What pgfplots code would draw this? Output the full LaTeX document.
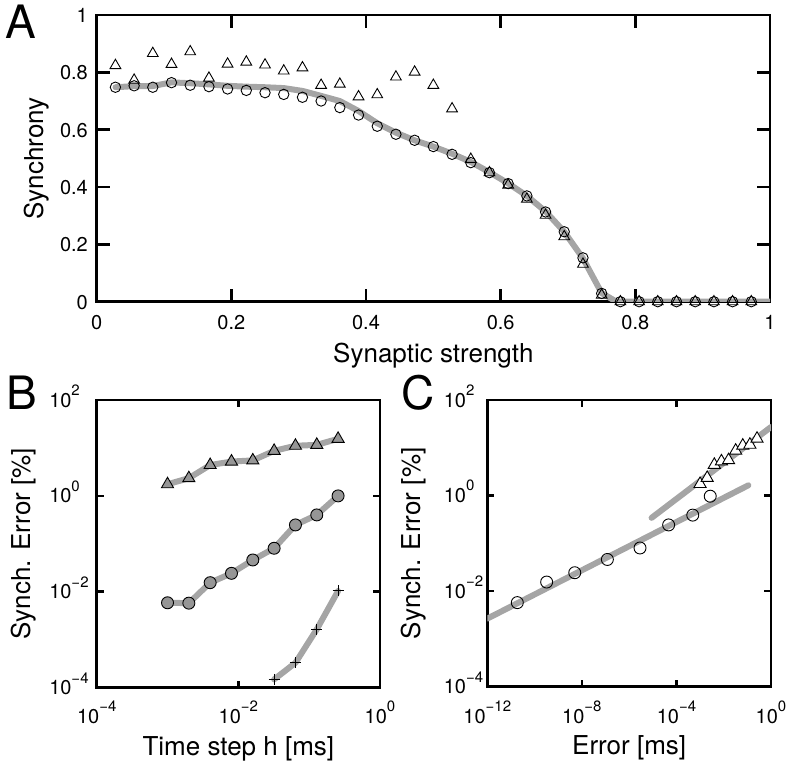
\documentclass[border=0pt]{standalone}
\usepackage{fontspec}
\setmainfont{TeX Gyre Heros}
\usepackage{pgfplots}
\pgfplotsset{compat=1.18}
\definecolor{lgray}{RGB}{165,165,165}
\definecolor{mgray}{RGB}{150,150,150}
\newcommand\sups[1]{\raisebox{11.6pt}{\fontsize{15}{15}\selectfont #1}}
\newcommand\tlab[1]{10\sups{#1}}
\newcommand\ylab[1]{10\rlap{\sups{#1}}}
\pgfplotsset{
  mystyle/.style={
    scale only axis,
    axis line style={line width=2.7pt},
    every tick/.style={black, line width=2.7pt},
    tick align=inside,
    tick label style={font=\fontsize{20}{20}\selectfont},
    label style={font=\fontsize{26}{26}\selectfont},
    clip marker paths=false,
  },
  gline/.style={color=lgray, line width=6pt, line join=round, line cap=round, no marks},
}
\begin{document}
\begin{tikzpicture}
\path[use as bounding box] (0,0) rectangle (787pt,766pt);
% ---------------- Panel A
\begin{axis}[mystyle,
  at={(96.7pt,464.3pt)}, anchor=south west,
  width=673.3pt, height=286.7pt,
  xmin=0, xmax=1, ymin=0, ymax=1,
  xtick={0,0.2,0.4,0.6,0.8,1}, ytick={0,0.2,0.4,0.6,0.8,1},
  major tick length=13pt,
  /pgf/number format/assume math mode=true,
  xticklabel style={anchor=base, yshift=-28.3pt, inner sep=0pt},
  yticklabel style={anchor=base east, xshift=-8.7pt, yshift=-7.5pt, inner sep=0pt},
  xlabel={Synaptic strength}, ylabel={Synchrony},
  xlabel style={at={(axis description cs:0.5,-0.2128)}, anchor=base},
  ylabel style={at={(axis description cs:-0.0797,0.5)}, anchor=base},
]
\addplot[gline] coordinates {
(0.028,0.748)(0.056,0.752)(0.083,0.752)(0.111,0.765)(0.139,0.762)(0.167,0.758)
(0.194,0.753)(0.222,0.750)(0.25,0.748)(0.278,0.745)(0.306,0.735)(0.333,0.718)
(0.361,0.700)(0.389,0.665)(0.417,0.622)(0.444,0.590)(0.472,0.563)(0.5,0.541)
(0.528,0.516)(0.556,0.487)(0.583,0.452)(0.611,0.413)(0.639,0.369)(0.667,0.314)
(0.694,0.245)(0.722,0.152)(0.75,0.03)(0.772,0)(1.0,0)};
\addplot[only marks, mark=triangle, mark size=6.2pt, mark options={line width=0.9pt, black}] coordinates {
(0.0278,0.824)(0.0556,0.773)(0.0833,0.866)(0.1111,0.828)(0.1389,0.872)(0.1667,0.780)
(0.1944,0.829)(0.2222,0.836)(0.25,0.826)(0.2778,0.805)(0.3056,0.816)(0.3333,0.755)
(0.3611,0.759)(0.3889,0.715)(0.4167,0.722)(0.4444,0.784)(0.4722,0.801)(0.5,0.755)
(0.5278,0.673)(0.5556,0.497)(0.5833,0.450)(0.6111,0.407)(0.6389,0.358)(0.6667,0.302)
(0.6944,0.227)(0.7222,0.131)(0.75,0.023)(0.7778,0)(0.8056,0)(0.8333,0)(0.8611,0)
(0.8889,0)(0.9167,0)(0.9444,0)(0.9722,0)};
\addplot[only marks, mark=o, mark size=5.2pt, mark options={line width=0.9pt, black}] coordinates {
(0.0278,0.748)(0.0556,0.753)(0.0833,0.748)(0.1111,0.764)(0.1389,0.755)(0.1667,0.750)
(0.1944,0.742)(0.2222,0.737)(0.25,0.729)(0.2778,0.723)(0.3056,0.713)(0.3333,0.700)
(0.3611,0.677)(0.3889,0.651)(0.4167,0.612)(0.4444,0.584)(0.4722,0.563)(0.5,0.541)
(0.5278,0.514)(0.5556,0.485)(0.5833,0.450)(0.6111,0.412)(0.6389,0.369)(0.6667,0.313)
(0.6944,0.244)(0.7222,0.153)(0.75,0.029)(0.7778,0)(0.8056,0)(0.8333,0)(0.8611,0)
(0.8889,0)(0.9167,0)(0.9444,0)(0.9722,0)};
\end{axis}
% ---------------- Panel B
\begin{axis}[mystyle,
  at={(96.7pt,78.3pt)}, anchor=south west,
  width=283.3pt, height=287.7pt,
  xmode=log, ymode=log,
  xmin=1e-4, xmax=1, ymin=1e-4, ymax=1e2,
  xtick={1e-4,1e-2,1}, ytick={1e-4,1e-2,1,1e2},
  xminorticks=false, yminorticks=false,
  xticklabels={\tlab{−4},\tlab{−2},\tlab{0}},
  yticklabels={\ylab{−4},\ylab{−2},\ylab{0},\ylab{2}},
  major tick length=7pt,
  xticklabel style={anchor=base, yshift=-35.6pt, inner sep=0pt},
  yticklabel style={anchor=base east, xshift=-25pt, yshift=-7pt, inner sep=0pt},
  xlabel={Time step h [ms]}, ylabel={Synch. Error [\%]},
  xlabel style={at={(axis description cs:0.5,-0.234)}, anchor=base},
  ylabel style={at={(axis description cs:-0.2354,0.5)}, anchor=base},
]
\addplot[gline] coordinates {(0.001,1.75)(0.002,2.34)(0.004,4.4)(0.008,5.2)(0.016,5.5)(0.032,8.7)(0.064,11.1)(0.128,11.6)(0.256,15.5)};
\addplot[gline] coordinates {(0.001,0.0059)(0.002,0.0058)(0.004,0.0155)(0.008,0.0243)(0.016,0.0461)(0.032,0.0809)(0.064,0.248)(0.128,0.401)(0.256,1.0)};
\addplot[gline] coordinates {(0.032,1.49e-4)(0.064,3.3e-4)(0.128,1.65e-3)(0.256,0.0104)};
\addplot[only marks, mark=triangle*, mark size=7pt, mark options={line width=0.9pt, draw=black, fill=mgray}] coordinates {(0.001,1.75)(0.002,2.34)(0.004,4.4)(0.008,5.2)(0.016,5.5)(0.032,8.7)(0.064,11.1)(0.128,11.6)(0.256,15.5)};
\addplot[only marks, mark=*, mark size=6pt, mark options={line width=0.9pt, draw=black, fill=mgray}] coordinates {(0.001,0.0059)(0.002,0.0058)(0.004,0.0155)(0.008,0.0243)(0.016,0.0461)(0.032,0.0809)(0.064,0.248)(0.128,0.401)(0.256,1.0)};
\addplot[only marks, mark=+, mark size=5.5pt, mark options={line width=1pt, black}] coordinates {(0.032,1.49e-4)(0.064,3.3e-4)(0.128,1.65e-3)(0.256,0.0104)};
\end{axis}
% ---------------- Panel C
\begin{axis}[mystyle,
  at={(487.3pt,79.3pt)}, anchor=south west,
  width=283.7pt, height=286.7pt,
  xmode=log, ymode=log,
  xmin=1e-12, xmax=1, ymin=1e-4, ymax=1e2,
  xtick={1e-12,1e-8,1e-4,1}, ytick={1e-4,1e-2,1,1e2},
  xminorticks=false, yminorticks=false,
  xticklabels={\tlab{−12},\tlab{−8},\tlab{−4},\tlab{0}},
  yticklabels={\ylab{−4},\ylab{−2},\ylab{0},\ylab{2}},
  major tick length=7pt,
  xticklabel style={anchor=base, yshift=-36.6pt, inner sep=0pt},
  yticklabel style={anchor=base east, xshift=-21pt, yshift=-7pt, inner sep=0pt},
  xlabel={Error [ms]}, ylabel={Synch. Error [\%]},
  xlabel style={at={(axis description cs:0.5,-0.238)}, anchor=base},
  ylabel style={at={(axis description cs:-0.235,0.5)}, anchor=base},
]
\addplot[gline] coordinates {(1e-12,0.00266)(0.11,1.64)};
\addplot[gline] coordinates {(8.9e-6,0.342)(1,27.2)};
\addplot[only marks, mark=o, mark size=6pt, mark options={line width=0.9pt, draw=black, fill=white}] coordinates {(1.86e-11,0.00575)(3.24e-10,0.0155)(5.0e-9,0.0243)(1.2e-7,0.046)(2.88e-6,0.080)(4.68e-5,0.243)(4.9e-4,0.39)(2.69e-3,0.97)};
\addplot[only marks, mark=triangle*, mark size=7pt, mark options={line width=0.9pt, draw=black, fill=white}] coordinates {(0.001,1.75)(0.002,2.34)(0.004,4.4)(0.008,5.2)(0.016,5.5)(0.032,8.7)(0.064,11.1)(0.128,11.6)(0.256,15.5)};
\end{axis}
% panel letters
\node[anchor=base west, inner sep=0pt, font=\fontsize{46}{46}\selectfont] at (5pt,727.7pt) {A};
\node[anchor=base west, inner sep=0pt, font=\fontsize{46}{46}\selectfont] at (6pt,356pt) {B};
\node[anchor=base west, inner sep=0pt, font=\fontsize{46}{46}\selectfont] at (401pt,356pt) {C};
\end{tikzpicture}
\end{document}
